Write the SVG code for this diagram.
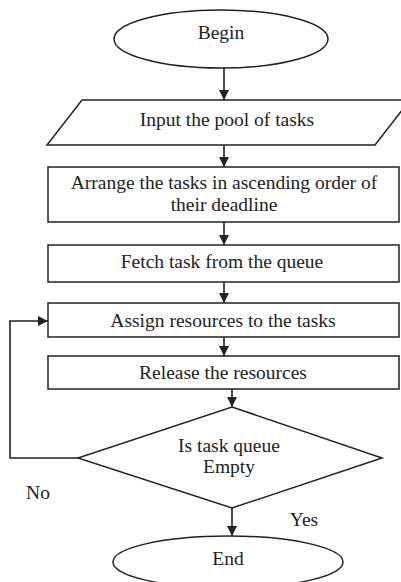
<svg xmlns="http://www.w3.org/2000/svg" width="401" height="582" viewBox="0 0 401 582">
<style>
.s{fill:#fff;stroke:#222;stroke-width:1.5}
.c{fill:none;stroke:#222;stroke-width:1.6}
</style>
<defs>
<marker id="ah" viewBox="0 0 10 10" refX="10" refY="5" markerWidth="10" markerHeight="10" markerUnits="userSpaceOnUse" orient="auto">
<path d="M0,0 L10,5 L0,10 Z" fill="#222"/>
</marker>
</defs>
<rect width="401" height="582" fill="#fff"/>
<g id="connectors">
<line class="c" x1="224" y1="68" x2="224" y2="100" marker-end="url(#ah)"/>
<line class="c" x1="224" y1="145" x2="224" y2="167" marker-end="url(#ah)"/>
<line class="c" x1="224" y1="222" x2="224" y2="245" marker-end="url(#ah)"/>
<line class="c" x1="224" y1="282" x2="224" y2="303" marker-end="url(#ah)"/>
<line class="c" x1="224" y1="337" x2="224" y2="356" marker-end="url(#ah)"/>
<line class="c" x1="232" y1="389" x2="232" y2="407" marker-end="url(#ah)"/>
<line class="c" x1="232" y1="508" x2="232" y2="536" marker-end="url(#ah)"/>
<polyline class="c" points="78,458 10,458 10,321 48,321" marker-end="url(#ah)"/>
</g>
<g font-family="Liberation Serif" font-size="19.5" fill="#222" text-anchor="middle">
<g id="begin">
<ellipse class="s" cx="221" cy="39" rx="107" ry="29"/>
<text x="221" y="39" font-family="Liberation Serif">Begin</text>
</g>
<g id="input">
<polygon class="s" points="82,100 410,100 375,145 47,145"/>
<text x="227" y="126" font-family="Liberation Serif">Input the pool of tasks</text>
</g>
<g id="arrange">
<rect class="s" x="48" y="167" width="351" height="55"/>
<text x="224" y="189" font-family="Liberation Serif">Arrange the tasks in ascending order of</text>
<text x="224" y="211" font-family="Liberation Serif">their deadline</text>
</g>
<g id="fetch">
<rect class="s" x="48" y="245" width="351" height="37"/>
<text x="222" y="268" font-family="Liberation Serif">Fetch task from the queue</text>
</g>
<g id="assign">
<rect class="s" x="48" y="303" width="351" height="34"/>
<text x="223" y="327" font-family="Liberation Serif">Assign resources to the tasks</text>
</g>
<g id="release">
<rect class="s" x="48" y="356" width="351" height="33"/>
<text x="223" y="379" font-family="Liberation Serif">Release the resources</text>
</g>
<g id="decision">
<polygon class="s" points="232,407 382,458 232,508 78,458"/>
<text x="229" y="452" font-family="Liberation Serif">Is task queue</text>
<text x="229" y="473" font-family="Liberation Serif">Empty</text>
</g>
<g id="end">
<ellipse class="s" cx="228" cy="562" rx="115" ry="26"/>
<text x="228" y="565" font-family="Liberation Serif">End</text>
</g>
<g id="labels">
<text x="38" y="499" font-family="Liberation Serif">No</text>
<text x="304" y="526" font-family="Liberation Serif">Yes</text>
</g>
</g>
</svg>
